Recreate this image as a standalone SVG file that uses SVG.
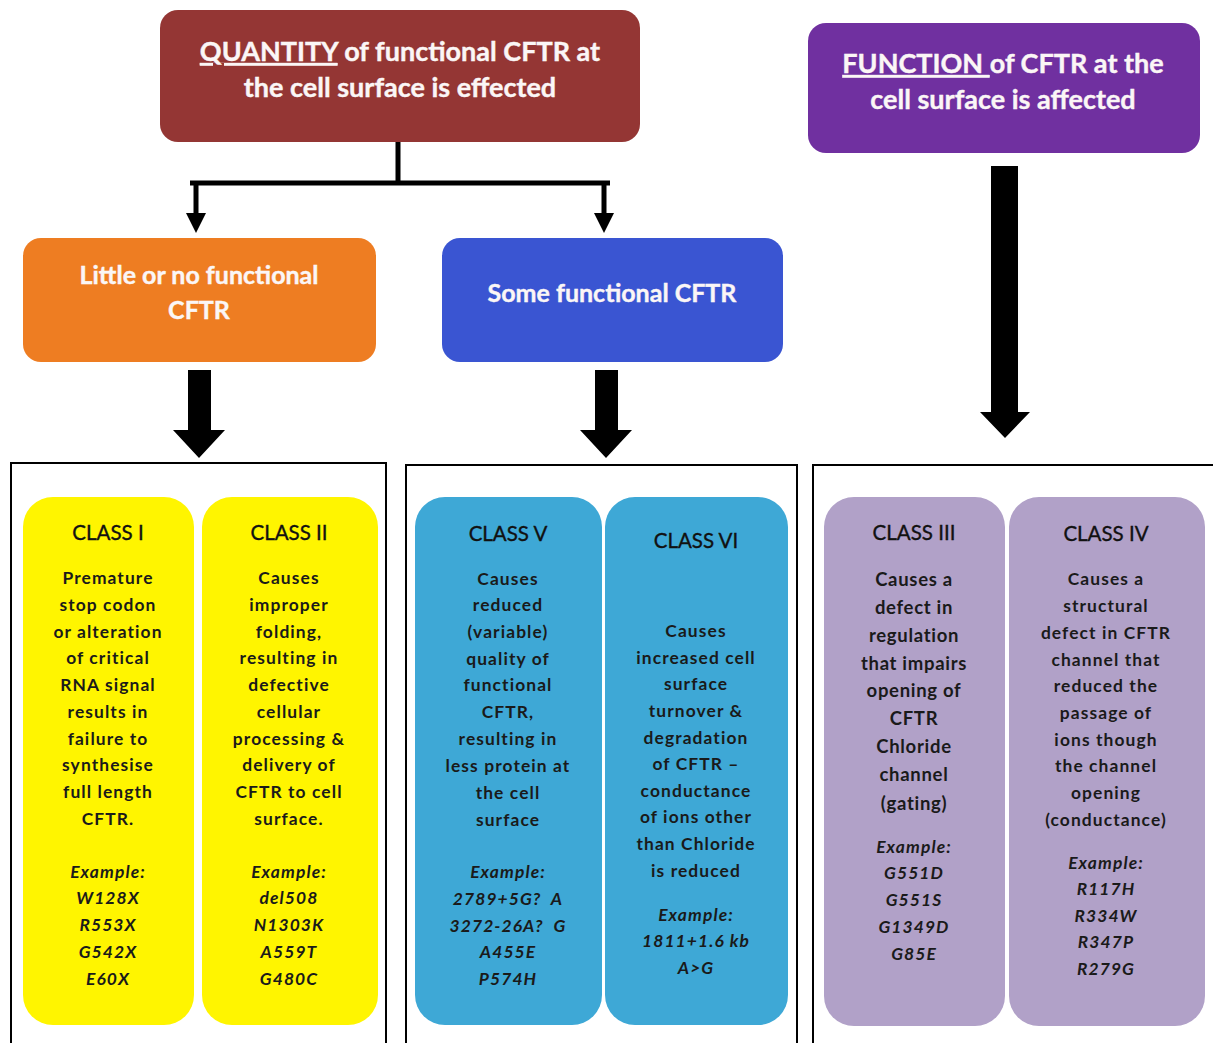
<svg xmlns="http://www.w3.org/2000/svg" width="1213" height="1043" viewBox="0 0 1213 1043">
<style>
.head{font-family:Lato,"Open Sans","Liberation Sans",sans-serif;font-weight:bold;fill:#fbf6f6;text-anchor:middle;stroke:#fbf6f6;stroke-width:0.4}
.t{font-family:Lato,"Open Sans","Liberation Sans",sans-serif;font-size:20.5px;fill:#111;text-anchor:middle;stroke:#111;stroke-width:0.35}
.b{font-family:Lato,"Open Sans","Liberation Sans",sans-serif;font-weight:bold;font-size:17.4px;letter-spacing:1.1px;fill:#1a1a1a;text-anchor:middle}
.b2{font-family:Lato,"Open Sans","Liberation Sans",sans-serif;font-weight:bold;font-size:18.5px;letter-spacing:0.7px;fill:#1a1a1a;text-anchor:middle}
.i{font-style:italic}
.frame{fill:#fff;stroke:#000;stroke-width:2}
.yel{fill:#fff500}
.cyan{fill:#3ea8d6}
.lav{fill:#b1a1c8}
</style>
<rect width="1213" height="1043" fill="#fff"/>

<g id="connectors">
  <path d="M398 142 V183 M190 183 H610 M196 183 V214 M604 183 V214" stroke="#000" stroke-width="5" fill="none"/>
  <polygon points="186,213 206,213 196,233" fill="#000"/>
  <polygon points="594,213 614,213 604,233" fill="#000"/>
  <polygon points="188,370 211,370 211,430 225,430 199,458 173,430 188,430" fill="#000"/>
  <polygon points="595,370 618,370 618,430 632,430 606,458 580,430 595,430" fill="#000"/>
  <polygon points="991,166 1018,166 1018,412 1030,412 1005,438 980,412 991,412" fill="#000"/>
</g>

<g id="quantity">
  <rect x="160" y="10" width="480" height="132" rx="18" fill="#943634"/>
  <text class="head" font-size="27" x="400" y="61"><tspan text-decoration="underline">QUANTITY</tspan> of functional CFTR at</text>
  <text class="head" font-size="27" x="400" y="97">the cell surface is effected</text>
</g>

<g id="function">
  <rect x="808" y="23" width="392" height="130" rx="18" fill="#7030a0"/>
  <text class="head" font-size="27" x="1003" y="73"><tspan text-decoration="underline">FUNCTION </tspan>of CFTR at the</text>
  <text class="head" font-size="27" x="1003" y="109">cell surface is affected</text>
</g>

<g id="little">
  <rect x="23" y="238" width="353" height="124" rx="18" fill="#ee7d22"/>
  <text class="head" font-size="25" x="199" y="284">Little or no functional</text>
  <text class="head" font-size="25" x="199" y="319">CFTR</text>
</g>

<g id="some">
  <rect x="442" y="238" width="341" height="124" rx="18" fill="#3a55d2"/>
  <text class="head" font-size="25" x="612" y="302">Some functional CFTR</text>
</g>

<g id="frame-left"><rect class="frame" x="11" y="463" width="375" height="600"/></g>
<g id="frame-mid"><rect class="frame" x="406" y="465" width="391" height="600"/></g>
<g id="frame-right"><rect class="frame" x="813" y="465" width="410" height="600"/></g>

<g id="class1">
  <rect class="yel" x="23" y="497" width="171" height="528" rx="30"/>
  <text class="t" x="108" y="540">CLASS I</text>
  <text class="b" x="108" y="584">Premature</text>
  <text class="b" x="108" y="611">stop codon</text>
  <text class="b" x="108" y="638">or alteration</text>
  <text class="b" x="108" y="664">of critical</text>
  <text class="b" x="108" y="691">RNA signal</text>
  <text class="b" x="108" y="718">results in</text>
  <text class="b" x="108" y="745">failure to</text>
  <text class="b" x="108" y="771">synthesise</text>
  <text class="b" x="108" y="798">full length</text>
  <text class="b" x="108" y="825">CFTR.</text>
  <text class="b i" x="108" y="878">Example:</text>
  <text class="b i" x="108" y="904">W128X</text>
  <text class="b i" x="108" y="931">R553X</text>
  <text class="b i" x="108" y="958">G542X</text>
  <text class="b i" x="108" y="985">E60X</text>
</g>

<g id="class2">
  <rect class="yel" x="202" y="497" width="176" height="528" rx="30"/>
  <text class="t" x="289" y="540">CLASS II</text>
  <text class="b" x="289" y="584">Causes</text>
  <text class="b" x="289" y="611">improper</text>
  <text class="b" x="289" y="638">folding,</text>
  <text class="b" x="289" y="664">resulting in</text>
  <text class="b" x="289" y="691">defective</text>
  <text class="b" x="289" y="718">cellular</text>
  <text class="b" x="289" y="745">processing &amp;</text>
  <text class="b" x="289" y="771">delivery of</text>
  <text class="b" x="289" y="798">CFTR to cell</text>
  <text class="b" x="289" y="825">surface.</text>
  <text class="b i" x="289" y="878">Example:</text>
  <text class="b i" x="289" y="904">del508</text>
  <text class="b i" x="289" y="931">N1303K</text>
  <text class="b i" x="289" y="958">A559T</text>
  <text class="b i" x="289" y="985">G480C</text>
</g>

<g id="class5">
  <rect class="cyan" x="415" y="497" width="187" height="528" rx="30"/>
  <text class="t" x="508" y="541">CLASS V</text>
  <text class="b" x="508" y="585">Causes</text>
  <text class="b" x="508" y="611">reduced</text>
  <text class="b" x="508" y="638">(variable)</text>
  <text class="b" x="508" y="665">quality of</text>
  <text class="b" x="508" y="691">functional</text>
  <text class="b" x="508" y="718">CFTR,</text>
  <text class="b" x="508" y="745">resulting in</text>
  <text class="b" x="508" y="772">less protein at</text>
  <text class="b" x="508" y="799">the cell</text>
  <text class="b" x="508" y="826">surface</text>
  <text class="b i" x="508" y="878">Example:</text>
  <text class="b i" x="508" y="905">2789+5G?&#160; A</text>
  <text class="b i" x="508" y="932">3272-26A?&#160; G</text>
  <text class="b i" x="508" y="958">A455E</text>
  <text class="b i" x="508" y="985">P574H</text>
</g>

<g id="class6">
  <rect class="cyan" x="605" y="497" width="183" height="528" rx="30"/>
  <text class="t" x="696" y="548">CLASS VI</text>
  <text class="b" x="696" y="637">Causes</text>
  <text class="b" x="696" y="664">increased cell</text>
  <text class="b" x="696" y="690">surface</text>
  <text class="b" x="696" y="717">turnover &amp;</text>
  <text class="b" x="696" y="744">degradation</text>
  <text class="b" x="696" y="770">of CFTR –</text>
  <text class="b" x="696" y="797">conductance</text>
  <text class="b" x="696" y="823">of ions other</text>
  <text class="b" x="696" y="850">than Chloride</text>
  <text class="b" x="696" y="877">is reduced</text>
  <text class="b i" x="696" y="921">Example:</text>
  <text class="b i" x="696" y="947">1811+1.6 kb</text>
  <text class="b i" x="696" y="974">A&gt;G</text>
</g>

<g id="class3">
  <rect class="lav" x="824" y="497" width="181" height="529" rx="30"/>
  <text class="t" x="914" y="540">CLASS III</text>
  <text class="b2" x="914" y="586">Causes a</text>
  <text class="b2" x="914" y="614">defect in</text>
  <text class="b2" x="914" y="642">regulation</text>
  <text class="b2" x="914" y="670">that impairs</text>
  <text class="b2" x="914" y="697">opening of</text>
  <text class="b2" x="914" y="725">CFTR</text>
  <text class="b2" x="914" y="753">Chloride</text>
  <text class="b2" x="914" y="781">channel</text>
  <text class="b2" x="914" y="810">(gating)</text>
  <text class="b i" x="914" y="853">Example:</text>
  <text class="b i" x="914" y="879">G551D</text>
  <text class="b i" x="914" y="906">G551S</text>
  <text class="b i" x="914" y="933">G1349D</text>
  <text class="b i" x="914" y="960">G85E</text>
</g>

<g id="class4">
  <rect class="lav" x="1009" y="497" width="196" height="529" rx="30"/>
  <text class="t" x="1106" y="541">CLASS IV</text>
  <text class="b" x="1106" y="585">Causes a</text>
  <text class="b" x="1106" y="612">structural</text>
  <text class="b" x="1106" y="639">defect in CFTR</text>
  <text class="b" x="1106" y="666">channel that</text>
  <text class="b" x="1106" y="692">reduced the</text>
  <text class="b" x="1106" y="719">passage of</text>
  <text class="b" x="1106" y="746">ions though</text>
  <text class="b" x="1106" y="772">the channel</text>
  <text class="b" x="1106" y="799">opening</text>
  <text class="b" x="1106" y="826">(conductance)</text>
  <text class="b i" x="1106" y="869">Example:</text>
  <text class="b i" x="1106" y="895">R117H</text>
  <text class="b i" x="1106" y="922">R334W</text>
  <text class="b i" x="1106" y="948">R347P</text>
  <text class="b i" x="1106" y="975">R279G</text>
</g>
</svg>
